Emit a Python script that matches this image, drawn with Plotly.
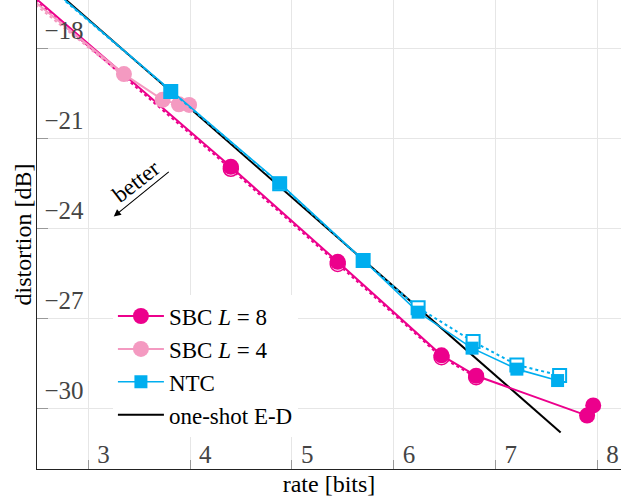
import plotly.graph_objects as go

# ---------------- data ----------------
sbc8_rate = [2.30, 4.40, 5.45, 6.47, 6.81, 7.90, 7.96]
sbc8_dist = [-15.80, -21.95, -25.12, -28.24, -28.92, -30.25, -29.91]
sbc8b_rate = [2.30, 4.40, 5.45, 6.47, 6.81]
sbc8b_dist = [-15.88, -22.02, -25.19, -28.30, -28.97]

sbc4_rate = [2.30, 3.35, 3.73, 3.89, 3.99]
sbc4_dist = [-15.97, -18.86, -19.72, -19.87, -19.89]
sbc4b_rate = [2.30, 3.35]
sbc4b_dist = [-16.05, -18.93]

ntc_rate = [2.60, 3.81, 4.88, 5.70, 6.24, 6.77, 7.21, 7.61]
ntc_dist = [-15.90, -19.42, -22.50, -25.06, -26.80, -28.00, -28.70, -29.08]
ntcb_rate = [2.60, 3.81, 4.88, 5.70, 6.24, 6.78, 7.21, 7.63]
ntcb_dist = [-15.92, -19.44, -22.52, -25.08, -26.65, -27.78, -28.56, -28.91]

ed_rate = [2.60, 7.64]
ed_dist = [-15.85, -30.81]

x_ticks = [3, 4, 5, 6, 7, 8]
y_ticks = [-30, -27, -24, -21, -18]

MAGENTA = "#EC008C"
PINK = "#F49AC1"
CYAN = "#00AEEF"
FONT = "Liberation Serif"

fig = go.Figure()

# one-shot E-D (drawn first so markers cover it, listed last in legend)
fig.add_trace(go.Scatter(x=ed_rate, y=ed_dist, mode="lines", name="one-shot E-D",
                         line=dict(color="black", width=2), legendrank=4))

# SBC L=8 dotted/hollow variant
fig.add_trace(go.Scatter(x=sbc8b_rate, y=sbc8b_dist, mode="lines+markers", showlegend=False,
                         line=dict(color=MAGENTA, width=2, dash="dot"),
                         marker=dict(symbol="circle", size=15, color="white",
                                     line=dict(color=MAGENTA, width=1.5))))
fig.add_trace(go.Scatter(x=sbc8_rate, y=sbc8_dist, mode="lines+markers", name="SBC <i>L</i> = 8",
                         line=dict(color=MAGENTA, width=2),
                         marker=dict(symbol="circle", size=16, color=MAGENTA), legendrank=1))

# SBC L=4
fig.add_trace(go.Scatter(x=sbc4b_rate, y=sbc4b_dist, mode="lines", showlegend=False,
                         line=dict(color=PINK, width=2, dash="dot")))
fig.add_trace(go.Scatter(x=sbc4_rate, y=sbc4_dist, mode="lines+markers", name="SBC <i>L</i> = 4",
                         line=dict(color=PINK, width=2),
                         marker=dict(symbol="circle", size=16, color=PINK), legendrank=2))

# NTC
fig.add_trace(go.Scatter(x=ntcb_rate, y=ntcb_dist, mode="lines+markers", showlegend=False,
                         line=dict(color=CYAN, width=2, dash="dot"),
                         marker=dict(symbol="square", size=13, color="white",
                                     line=dict(color=CYAN, width=2))))
fig.add_trace(go.Scatter(x=ntc_rate, y=ntc_dist, mode="lines+markers", name="NTC",
                         line=dict(color=CYAN, width=1.6),
                         marker=dict(symbol="square", size=13, color=CYAN), legendrank=3))

# "better" arrow
fig.add_annotation(x=3.25, y=-23.61, ax=3.805, ay=-22.08, xref="x", yref="y",
                   axref="x", ayref="y", text="", showarrow=True,
                   arrowhead=2, arrowsize=1.3, arrowwidth=1.1, arrowcolor="black")
fig.add_annotation(x=3.47, y=-22.45, xref="x", yref="y", text="better", showarrow=False,
                   textangle=-38, font=dict(family=FONT, size=23, color="black"))

fig.update_layout(
    width=621, height=502,
    margin=dict(l=37, r=0, t=0, b=33),
    paper_bgcolor="white", plot_bgcolor="white",
    font=dict(family=FONT, size=24, color="black"),
    legend=dict(x=0.13, y=0.372, xanchor="left", yanchor="top",
                bgcolor="white", borderwidth=0, itemwidth=46,
                tracegroupgap=0,
                font=dict(family=FONT, size=23, color="black")),
)
fig.update_xaxes(range=[2.496, 8.233], tickvals=x_ticks, ticktext=[str(v) for v in x_ticks],
                 ticklabelposition="inside right", ticks="inside", ticklen=9,
                 ticklabelshift=8,
                 tickfont=dict(size=25),
                 tickcolor="#999999", showgrid=True, gridcolor="#e6e6e6",
                 showline=True, linecolor="#222222", linewidth=1, zeroline=False,
                 title=dict(text="rate [bits]", standoff=8, font=dict(size=24)))
fig.update_yaxes(range=[-32.03, -16.39], tickvals=y_ticks,
                 ticklabelposition="inside top", ticks="inside", ticklen=11,
                 ticklabelstandoff=9,
                 tickfont=dict(size=25),
                 tickcolor="#999999", showgrid=True, gridcolor="#e6e6e6",
                 showline=True, linecolor="#222222", linewidth=1, zeroline=False,
                 title=dict(text="distortion [dB]", standoff=6, font=dict(size=24)))

fig.write_html("out.html")
